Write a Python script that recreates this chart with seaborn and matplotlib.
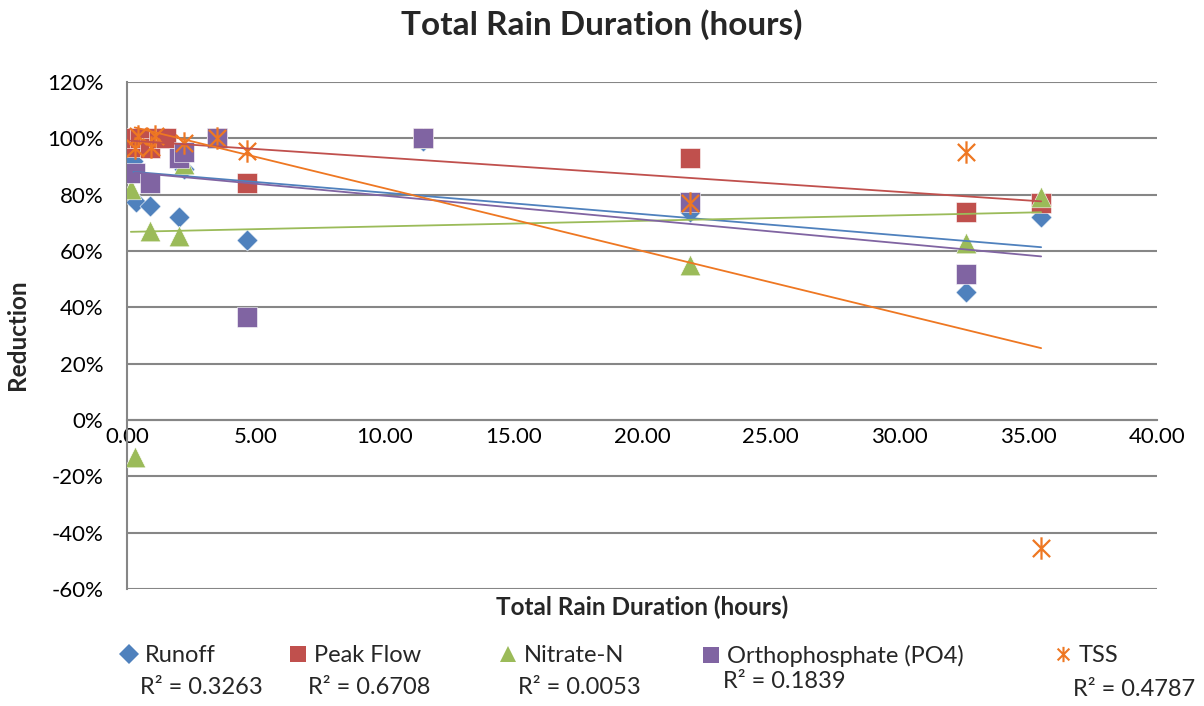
import numpy as np
import pandas as pd
import matplotlib
matplotlib.use('Agg')
import matplotlib.pyplot as plt
from matplotlib.path import Path
from matplotlib.lines import Line2D
from matplotlib.ticker import FuncFormatter, MultipleLocator
import seaborn as sns

# valores (reducao em %)
runoff_x = [0.25, 0.35, 0.5, 0.9, 1.25, 2.0, 2.2, 3.5, 4.66, 11.5, 21.85, 32.6, 35.5]
runoff_y = [92, 77.5, 98, 76, 100, 72, 89, 100, 64, 99, 74, 45.5, 72]

peak_x = [0.15, 0.3, 0.5, 0.9, 1.25, 1.5, 3.5, 4.66, 11.5, 21.85, 32.6, 35.5]
peak_y = [97, 100, 100, 96.5, 100, 100, 100, 84, 100, 93, 74, 77]

nitrate_x = [0.15, 0.3, 0.9, 2.0, 2.2, 3.5, 11.5, 21.85, 32.6, 35.5]
nitrate_y = [82, -13, 67, 65.5, 91, 100, 100, 55, 63, 79]

ortho_x = [0.3, 0.9, 2.0, 2.2, 3.5, 4.66, 11.5, 21.85, 32.6, 35.5]
ortho_y = [87.7, 84, 93, 95, 100, 36.5, 100, 77.4, 52, np.nan]

tss_x = [0.3, 0.43, 0.93, 1.1, 2.2, 3.5, 4.66, 21.85, 32.6, 35.5]
tss_y = [96.5, 101, 97, 101, 98.5, 100, 95.5, 77, 95, -45.5]

nomes = ['Runoff', 'Peak Flow', 'Nitrate-N', 'Orthophosphate (PO4)', 'TSS']
r2_textos = ['R² = 0.3263', 'R² = 0.6708', 'R² = 0.0053', 'R² = 0.1839', 'R² = 0.4787']

# marcador estrela do Excel (X + linha vertical)
estrela = Path([(-1, -1), (1, 1), (-1, 1), (1, -1), (0, -1.3), (0, 1.3)],
               [Path.MOVETO, Path.LINETO, Path.MOVETO, Path.LINETO, Path.MOVETO, Path.LINETO])

cores = ['#4F81BD', '#C0504D', '#9BBB59', '#8064A2', '#EE7722']
marcadores = ['D', 's', '^', 's', estrela]
tamanhos = [115, 210, 220, 210, 260]
series = [(runoff_x, runoff_y), (peak_x, peak_y), (nitrate_x, nitrate_y),
          (ortho_x, ortho_y), (tss_x, tss_y)]

sns.set_style('white')
plt.rcParams['font.family'] = ['Lato', 'DejaVu Sans']

W, H = 1204, 706
fig = plt.figure(figsize=(W / 100, H / 100), dpi=100)
ax = fig.add_axes([127 / W, 1 - 589 / H, (1157 - 127) / W, (589 - 82) / H])

for (xs, ys), cor, mk, sz in zip(series, cores, marcadores, tamanhos):
    df = pd.DataFrame({'x': xs, 'y': ys}).dropna()
    if mk is estrela:
        sns.scatterplot(data=df, x='x', y='y', marker=mk, s=sz, color=cor,
                        edgecolor=cor, linewidth=1.6, ax=ax, zorder=3, legend=False)
    else:
        sns.scatterplot(data=df, x='x', y='y', marker=mk, s=sz, color=cor,
                        edgecolor='white', linewidth=0.4, ax=ax, zorder=3, legend=False)

# linhas de tendencia (regressao linear)
for (xs, ys), cor in zip(series, cores):
    xs = np.array(xs, dtype=float)
    ys = np.array(ys, dtype=float)
    ok = ~np.isnan(ys)
    a, b = np.polyfit(xs[ok], ys[ok], 1)
    xr = np.array([xs.min(), xs.max()])
    sns.lineplot(x=xr, y=a * xr + b, color=cor, linewidth=1.3, ax=ax, zorder=4)

ax.set_xlim(0, 40)
ax.set_ylim(-60, 120)
ax.xaxis.set_major_locator(MultipleLocator(5))
ax.yaxis.set_major_locator(MultipleLocator(20))
ax.xaxis.set_major_formatter(FuncFormatter(lambda v, p: f'{v:.2f}'))
ax.yaxis.set_major_formatter(FuncFormatter(lambda v, p: f'{v:.0f}%'))
ax.set_xlabel('')
ax.set_ylabel('')

ax.grid(axis='y', color='#868686', linewidth=1.5)
ax.set_axisbelow(True)
for s in ['top', 'right']:
    ax.spines[s].set_visible(False)
ax.spines['bottom'].set_position(('data', 0))
for s in ['left', 'bottom']:
    ax.spines[s].set_color('#868686')
    ax.spines[s].set_linewidth(1.5)
ax.tick_params(axis='both', direction='out', length=5, width=1.2, color='#868686',
               labelsize=16, labelcolor='black')
ax.tick_params(axis='x', pad=0)
ax.tick_params(axis='y', pad=12)

fig.text(0.5, 1 - 25 / H, 'Total Rain Duration (hours)', ha='center', va='center',
         fontsize=24, fontweight='bold')
fig.text(642 / W, 1 - 607 / H, 'Total Rain Duration (hours)', ha='center', va='center',
         fontsize=17.5, fontweight='bold')
fig.text(18 / W, 1 - 335 / H, 'Reduction', ha='center', va='center', rotation=90,
         fontsize=17.5, fontweight='bold')

# legenda na parte de baixo
leg_mx = [129, 298, 508, 711, 1063]
leg_ms = [10, 11, 12, 11, 11]
for nome, cor, mk, mx, ms in zip(nomes, cores, marcadores, leg_mx, leg_ms):
    h = Line2D([], [], linestyle='none', marker=mk, markersize=ms, color=cor,
               markeredgecolor=cor, markeredgewidth=1.5 if mk is estrela else 0)
    lg = fig.legend(handles=[h], labels=[nome], loc='center left',
                    bbox_to_anchor=((mx - 8) / W, 1 - 656 / H), frameon=False,
                    fontsize=17, handlelength=0.7, handletextpad=0.3,
                    borderpad=0, borderaxespad=0)

r2_x = [140, 308, 518, 723, 1073]
r2_y = [688, 688, 688, 682, 690]
for txt, x, y in zip(r2_textos, r2_x, r2_y):
    fig.text(x / W, 1 - y / H, txt, ha='left', va='center', fontsize=17)

fig.savefig('out.png', dpi=100)
